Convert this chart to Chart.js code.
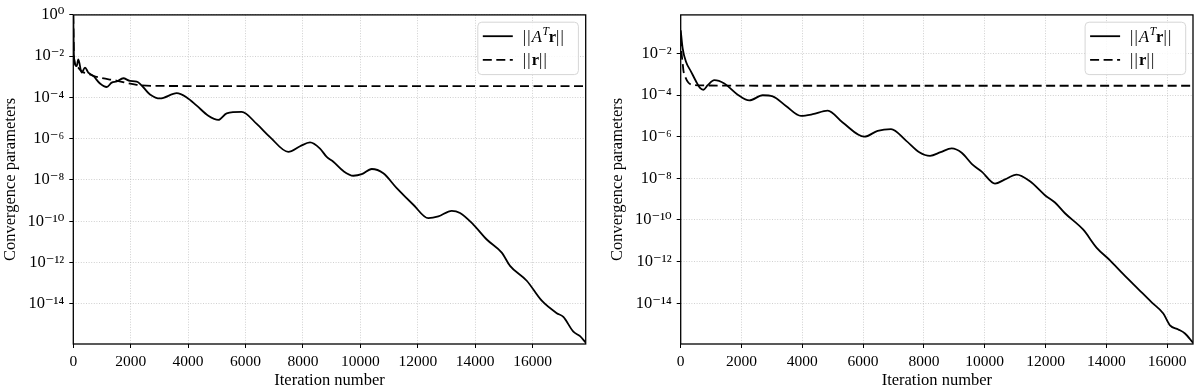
<!DOCTYPE html>
<html>
<head>
<meta charset="utf-8">
<script src="https://cdn.jsdelivr.net/npm/chart.js@4.4.1/dist/chart.umd.min.js"></script>
<style>
  html, body { margin: 0; padding: 0; background: #fff; }
  #wrap { position: relative; width: 1200px; height: 391px; }
  .panel { position: absolute; top: 0; width: 600px; height: 391px; }
  #p1 { left: 0; } #p2 { left: 600px; }
</style>
</head>
<body>
<div id="wrap">
  <div class="panel" id="p1"><canvas id="c1" width="600" height="391"></canvas></div>
  <div class="panel" id="p2"><canvas id="c2" width="600" height="391"></canvas></div>
</div>
<script>
// ---------------- DATA ----------------
const seriesLabels = ['||Aᵀr||', '||r||'];
const xTitle = 'Iteration number';
const yTitle = 'Convergence parameters';

const xTickValues = [0, 2000, 4000, 6000, 8000, 10000, 12000, 14000, 16000];
const yTickValuesLeft = [1e0, 1e-2, 1e-4, 1e-6, 1e-8, 1e-10, 1e-12, 1e-14];
const yTickLabelsLeft = ['10⁰', '10⁻²', '10⁻⁴', '10⁻⁶', '10⁻⁸', '10⁻¹⁰', '10⁻¹²', '10⁻¹⁴'];
const yTickValuesRight = [1e-2, 1e-4, 1e-6, 1e-8, 1e-10, 1e-12, 1e-14];
const yTickLabelsRight = ['10⁻²', '10⁻⁴', '10⁻⁶', '10⁻⁸', '10⁻¹⁰', '10⁻¹²', '10⁻¹⁴'];

// Left panel: ||A^T r||
const leftIter = [0, 24, 118, 174, 292, 408, 523, 697, 930, 1164, 1338, 1512, 1742, 1975, 2209,
  2672, 3021, 3602, 3951, 4299, 4703, 5052, 5344, 5867, 6390, 6853, 7491, 7898, 8247, 8595,
  8828, 9059, 9407, 9755, 10048, 10396, 10800, 11267, 11846, 12368, 12717, 13183, 13473,
  13936, 14403, 14925, 15214, 15796, 16319, 16842, 17072, 17420, 17653, 17850];
const leftAtr = [1.0, 8.3e-3, 3.3e-3, 6.9e-3, 1.6e-3, 2.8e-3, 1.6e-3, 1.1e-3, 4.7e-4, 3.2e-4,
  5.2e-4, 5.9e-4, 8.5e-4, 6.3e-4, 5.9e-4, 1.4e-4, 8.9e-5, 1.6e-4, 1.0e-4, 4.0e-5, 1.3e-5,
  8.1e-6, 1.7e-5, 2.0e-5, 5.2e-6, 1.2e-6, 2.3e-7, 4.3e-7, 6.6e-7, 3.3e-7, 1.3e-7, 7.6e-8,
  2.7e-8, 1.6e-8, 1.9e-8, 3.4e-8, 2.1e-8, 4.0e-9, 6.3e-10, 1.4e-10, 1.7e-10, 3.2e-10,
  2.5e-10, 6.9e-11, 1.3e-11, 3.0e-12, 6.9e-13, 1.3e-13, 1.4e-14, 3.5e-15, 2.3e-15, 4.4e-16,
  2.7e-16, 1.3e-16];
// Left panel: ||r||
const leftResIter = [0, 24, 118, 292, 523, 697, 930, 1500, 2209, 3000, 6000, 10000, 14000, 17850];
const leftRes = [1.0, 8.3e-3, 3.3e-3, 1.8e-3, 1.4e-3, 1.1e-3, 9.0e-4, 6.5e-4, 4.1e-4, 3.6e-4,
  3.55e-4, 3.55e-4, 3.55e-4, 3.55e-4];

// Right panel: ||A^T r||
const rightIter = [0, 66, 174, 339, 503, 635, 744, 888, 1106, 1434, 1875, 2257, 2697, 3026,
  3463, 3957, 4342, 4835, 5328, 6039, 6478, 6917, 7410, 7848, 8200, 8550, 8913, 9242, 9571,
  9900, 10337, 10666, 11050, 11488, 11981, 12310, 12639, 13241, 13683, 14120, 14557, 15050,
  15491, 15873, 16093, 16366, 16586, 16850];
const rightAtr = [1.3e-1, 1.7e-2, 4.0e-3, 1.35e-3, 4.6e-4, 2.2e-4, 1.8e-4, 3.0e-4, 5.2e-4,
  3.6e-4, 1.05e-4, 5.5e-5, 9.8e-5, 8.7e-5, 3.0e-5, 1.0e-5, 1.2e-5, 1.8e-5, 4.8e-6, 1.0e-6,
  1.9e-6, 2.3e-6, 6.5e-7, 1.8e-7, 1.2e-7, 1.8e-7, 2.75e-7, 1.7e-7, 5.0e-8, 2.1e-8, 5.6e-9,
  8.9e-9, 1.5e-8, 7.2e-9, 1.55e-9, 6.9e-10, 2.1e-10, 3.4e-11, 4.6e-12, 1.15e-12, 2.5e-13,
  4.8e-14, 1.1e-14, 3.2e-15, 8.7e-16, 5.5e-16, 3.5e-16, 1.26e-16];
// Right panel: ||r||
const rightResIter = [0, 30, 60, 90, 150, 250, 400, 700, 4000, 10000, 16850];
const rightRes = [6.0e-2, 1.0e-2, 4.0e-3, 1.5e-3, 7.5e-4, 4.0e-4, 3.1e-4, 2.9e-4, 2.8e-4,
  2.8e-4, 2.8e-4];

const xMaxLeft = 17850, xMaxRight = 16850;
const yMinLeft = 1.12e-16, yMaxLeft = 1.0;
const yMinRight = 1.1e-16, yMaxRight = 0.71;

// ---------------- RENDERING ----------------
const FONT = "'Liberation Serif', 'DejaVu Serif', serif";

function pts(xs, ys) { return xs.map((x, i) => ({ x: x, y: ys[i] })); }

const legendRuns = {
  '||Aᵀr||': [
    { t: '|' }, { t: '|' }, { t: 'A', style: 'italic' },
    { t: 'T', style: 'italic', size: 11.5, dy: -6.5 }, { t: 'r', weight: 'bold' },
    { t: '|' }, { t: '|' }
  ],
  '||r||': [ { t: '|' }, { t: '|' }, { t: 'r', weight: 'bold' }, { t: '|' }, { t: '|' } ]
};

const framePlugin = {
  id: 'frame',
  afterDatasetsDraw(chart) {
    const { ctx, chartArea: a } = chart;
    ctx.save();
    ctx.strokeStyle = '#000';
    ctx.lineWidth = 1.3;
    ctx.setLineDash([]);
    ctx.strokeRect(a.left, a.top, a.right - a.left, a.bottom - a.top);
    ctx.restore();
  }
};

const legendPlugin = {
  id: 'boxLegend',
  afterDraw(chart) {
    const { ctx, chartArea: a } = chart;
    const w = 100.6, h = 52.4, m = 7.3, r = 4;
    const x0 = a.right - m - w, y0 = a.top + m;
    ctx.save();
    ctx.beginPath();
    ctx.moveTo(x0 + r, y0);
    ctx.arcTo(x0 + w, y0, x0 + w, y0 + h, r);
    ctx.arcTo(x0 + w, y0 + h, x0, y0 + h, r);
    ctx.arcTo(x0, y0 + h, x0, y0, r);
    ctx.arcTo(x0, y0, x0 + w, y0, r);
    ctx.closePath();
    ctx.fillStyle = 'rgba(255,255,255,0.85)';
    ctx.fill();
    ctx.strokeStyle = '#d6d6d6';
    ctx.lineWidth = 1;
    ctx.stroke();
    chart.data.datasets.forEach((ds, i) => {
      const y = y0 + 14 + i * 23.7;
      ctx.strokeStyle = ds.borderColor;
      ctx.lineWidth = ds.borderWidth;
      ctx.setLineDash(ds.borderDash || []);
      ctx.beginPath();
      ctx.moveTo(x0 + 5, y);
      ctx.lineTo(x0 + 35, y);
      ctx.stroke();
      ctx.setLineDash([]);
      let x = x0 + 45;
      ctx.fillStyle = '#000';
      ctx.textBaseline = 'alphabetic';
      ctx.textAlign = 'left';
      (legendRuns[ds.label] || [{ t: ds.label }]).forEach(run => {
        const size = run.size || 16.5;
        ctx.font = (run.style || 'normal') + ' ' + (run.weight || 'normal') + ' ' + size + 'px ' + FONT;
        ctx.fillText(run.t, x, y + 5.5 + (run.dy || 0));
        let adv = ctx.measureText(run.t).width;
        if (run.t === '|') adv = Math.max(adv, 4.5);
        x += adv + (run.t === 'A' ? 0.5 : 0);
      });
    });
    ctx.restore();
  }
};

function makeChart(canvasId, cfg) {
  const tickMap = new Map(cfg.yTicks.map((v, i) => [v, cfg.yLabels[i]]));
  return new Chart(document.getElementById(canvasId), {
    type: 'line',
    data: {
      datasets: [
        {
          label: seriesLabels[0],
          data: pts(cfg.atrX, cfg.atrY),
          borderColor: '#000', borderWidth: 1.8, pointRadius: 0,
          cubicInterpolationMode: 'monotone', fill: false
        },
        {
          label: seriesLabels[1],
          data: pts(cfg.resX, cfg.resY),
          borderColor: '#000', borderWidth: 1.8, borderDash: [9, 4.5], pointRadius: 0,
          cubicInterpolationMode: 'monotone', fill: false
        }
      ]
    },
    options: {
      responsive: false,
      animation: false,
      devicePixelRatio: 1,
      layout: { padding: { top: 11, right: cfg.padRight, left: 0, bottom: 0 } },
      plugins: { legend: { display: false }, tooltip: { enabled: false } },
      scales: {
        x: {
          type: 'linear', min: 0, max: cfg.xMax,
          afterBuildTicks: s => { s.ticks = xTickValues.map(v => ({ value: v })); },
          afterFit: s => { s.height = 47; },
          ticks: { color: '#000', font: { family: FONT, size: 15.5 }, padding: 5, maxRotation: 0,
                   callback: v => String(v) },
          grid: { color: 'rgba(176,176,176,0.75)', lineWidth: 0.8, tickColor: '#000',
                  tickLength: 4, tickWidth: 1 },
          border: { display: false, dash: [1, 1.6] },
          title: { display: true, text: xTitle, color: '#000', font: { family: FONT, size: 16.5 },
                   padding: { top: 0, bottom: 0 } }
        },
        y: {
          type: 'logarithmic', min: cfg.yMin, max: cfg.yMax,
          afterBuildTicks: s => { s.ticks = cfg.yTicks.map(v => ({ value: v, major: true })); },
          afterFit: s => { s.width = cfg.yWidth; },
          ticks: { color: '#000', font: { family: FONT, size: 16.5 }, padding: 5,
                   callback: v => tickMap.has(v) ? tickMap.get(v) : '' },
          grid: { color: 'rgba(176,176,176,0.75)', lineWidth: 0.8, tickColor: '#000',
                  tickLength: 4, tickWidth: 1 },
          border: { display: false, dash: [1, 1.6] },
          title: { display: true, text: yTitle, color: '#000', font: { family: FONT, size: 16.5 },
                   padding: { top: cfg.yTitlePad, bottom: 0 } }
        }
      }
    },
    plugins: [framePlugin, legendPlugin]
  });
}

makeChart('c1', {
  atrX: leftIter, atrY: leftAtr, resX: leftResIter, resY: leftRes,
  xMax: xMaxLeft, yMin: yMinLeft, yMax: yMaxLeft,
  yTicks: yTickValuesLeft, yLabels: yTickLabelsLeft,
  yWidth: 73.3, padRight: 14.3, yTitlePad: 1
});
makeChart('c2', {
  atrX: rightIter, atrY: rightAtr, resX: rightResIter, resY: rightRes,
  xMax: xMaxRight, yMin: yMinRight, yMax: yMaxRight,
  yTicks: yTickValuesRight, yLabels: yTickLabelsRight,
  yWidth: 80.7, padRight: 7, yTitlePad: 8
});
</script>
</body>
</html>
